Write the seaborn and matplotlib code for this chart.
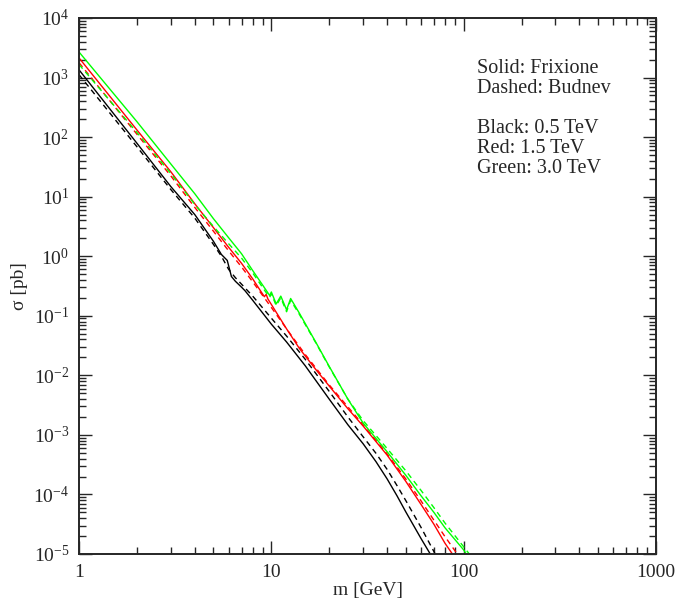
import numpy as np
import pandas as pd
import seaborn as sns
import matplotlib.pyplot as plt
from matplotlib.ticker import LogLocator, NullFormatter, FuncFormatter, LogFormatterMathtext

# cross sections [pb], per beam energy and photon flux model
m_black_solid = [1, 2, 3, 4, 5, 5.5, 5.9, 6.2, 6.5, 7, 7.3, 8, 10, 12, 15, 20, 25, 30, 35, 40, 45,
                 50, 60, 70]
sig_black_solid = [1350, 79, 14.8, 5.0, 1.78, 1.07, 0.85, 0.457, 0.38, 0.302, 0.263, 0.182, 0.0724,
                   0.0363, 0.0145, 0.00398, 0.00148, 7.1e-4, 3.55e-4, 1.82e-4, 9.5e-5, 5.1e-5,
                   1.82e-5, 7.9e-6]

m_black_dashed = [1, 2, 3, 4, 5, 5.5, 6, 6.5, 7, 8, 10, 12, 15, 20, 25, 30, 35, 40, 45, 50, 60, 70, 75]
sig_black_dashed = [1120, 69, 13.2, 4.37, 1.58, 1.0, 0.60, 0.437, 0.339, 0.214, 0.0912, 0.0457, 0.0186,
                    0.00537, 0.0020, 9.3e-4, 4.9e-4, 2.63e-4, 1.41e-4, 7.9e-5, 2.8e-5, 1.1e-5, 7.1e-6]

m_red_solid = [1, 2, 3, 4, 5, 6, 7, 8, 8.7, 9.2, 9.4, 9.6, 10, 12, 14, 17, 20, 25, 30, 40, 50, 60, 70, 80, 90]
sig_red_solid = [2140, 132, 26.3, 7.6, 3.02, 1.41, 0.76, 0.417, 0.275, 0.209, 0.229, 0.191, 0.155, 0.0603,
                 0.0282, 0.0126, 0.0066, 0.00275, 0.00141, 4.57e-4, 1.66e-4, 6.8e-5, 3.16e-5, 1.51e-5, 8.7e-6]

m_red_dashed = [1, 2, 3, 4, 5, 6, 7, 8, 10, 12, 15, 20, 25, 30, 40, 50, 60, 70, 80, 95]
sig_red_dashed = [1780, 112, 22.4, 6.6, 2.63, 1.23, 0.66, 0.372, 0.138, 0.0603, 0.0224, 0.0069, 0.00295,
                  0.00148, 4.8e-4, 1.82e-4, 7.8e-5, 3.7e-5, 1.95e-5, 8.9e-6]

m_green_solid = [1, 2, 3, 4, 5, 6, 7, 8, 9.3, 9.8, 10, 10.6, 11.2, 12, 12.6, 14, 17, 20, 25, 30, 40,
                 50, 60, 70, 80, 100, 105]
sig_green_solid = [2690, 182, 35.5, 11.2, 4.27, 2.04, 1.10, 0.575, 0.282, 0.219, 0.251, 0.158, 0.214,
                   0.126, 0.195, 0.110, 0.0363, 0.0141, 0.00398, 0.00158, 5.2e-4, 2.1e-4, 9.5e-5,
                   5.0e-5, 2.75e-5, 1.17e-5, 9.1e-6]

m_green_dashed = [1, 2, 3, 4, 5, 6, 7, 8, 9.3, 9.8, 10, 10.6, 11.2, 12, 12.6, 14, 17, 20, 25, 30, 40,
                  50, 60, 70, 80, 100, 110]
sig_green_dashed = [1660, 120, 24.5, 7.4, 3.16, 1.62, 0.93, 0.525, 0.257, 0.204, 0.234, 0.148, 0.2,
                    0.117, 0.182, 0.105, 0.0355, 0.0138, 0.00398, 0.00174, 5.9e-4, 2.5e-4, 1.17e-4,
                    6.0e-5, 3.3e-5, 1.32e-5, 8.9e-6]

curves = [
    ("0.5 TeV", "Frixione", m_black_solid, sig_black_solid),
    ("0.5 TeV", "Budnev", m_black_dashed, sig_black_dashed),
    ("1.5 TeV", "Frixione", m_red_solid, sig_red_solid),
    ("1.5 TeV", "Budnev", m_red_dashed, sig_red_dashed),
    ("3.0 TeV", "Frixione", m_green_solid, sig_green_solid),
    ("3.0 TeV", "Budnev", m_green_dashed, sig_green_dashed),
]
frames = [pd.DataFrame({"m": m, "sigma": s, "energy": e, "model": mod}) for e, mod, m, s in curves]
df = pd.concat(frames, ignore_index=True)

sns.set_style("ticks")
plt.rcParams["font.family"] = ["Liberation Serif", "DejaVu Serif"]
plt.rcParams["mathtext.fontset"] = "custom"
plt.rcParams["mathtext.rm"] = "Liberation Serif"
plt.rcParams["mathtext.it"] = "Liberation Serif:italic"

fig, ax = plt.subplots(figsize=(6.78, 6.04), dpi=100)
fig.subplots_adjust(left=0.1165, right=0.9676, top=0.9702, bottom=0.0828)

sns.lineplot(
    data=df, x="m", y="sigma", hue="energy", style="model",
    palette={"0.5 TeV": "black", "1.5 TeV": "#ff0000", "3.0 TeV": "#00ff00"},
    dashes={"Frixione": "", "Budnev": (4, 3)},
    estimator=None, sort=False, linewidth=1.0, legend=False, ax=ax,
)

ax.set_xscale("log")
ax.set_yscale("log")
ax.set_xlim(1, 1000)
ax.set_ylim(1e-5, 1e4)

ax.xaxis.set_major_locator(LogLocator(base=10, numticks=20))
ax.xaxis.set_minor_locator(LogLocator(base=10, subs=np.arange(2, 10), numticks=100))
ax.yaxis.set_major_locator(LogLocator(base=10, numticks=20))
ax.yaxis.set_minor_locator(LogLocator(base=10, subs=np.arange(2, 10), numticks=100))
ax.xaxis.set_major_formatter(FuncFormatter(lambda v, p: f"{v:g}"))
ax.yaxis.set_major_formatter(LogFormatterMathtext())
ax.xaxis.set_minor_formatter(NullFormatter())
ax.yaxis.set_minor_formatter(NullFormatter())

ax.tick_params(which="both", direction="in", top=True, right=True, width=1.0, labelsize=14)
ax.tick_params(which="major", length=9.5, pad=7)
ax.tick_params(which="minor", length=5)
for sp in ax.spines.values():
    sp.set_linewidth(1.4)

ax.set_xlabel("m [GeV]", fontsize=14, labelpad=1)
ax.set_ylabel("σ [pb]", fontsize=14, labelpad=4)

# annotation block, top right
notes = {0: "Solid: Frixione", 1: "Dashed: Budnev", 3: "Black: 0.5 TeV", 4: "Red: 1.5 TeV",
         5: "Green: 3.0 TeV"}
for i, line in notes.items():
    ax.text(0.69, 0.906 - i * 0.0373, line, transform=ax.transAxes, fontsize=14.5, va="center", ha="left")

plt.savefig("out.png", dpi=100)
